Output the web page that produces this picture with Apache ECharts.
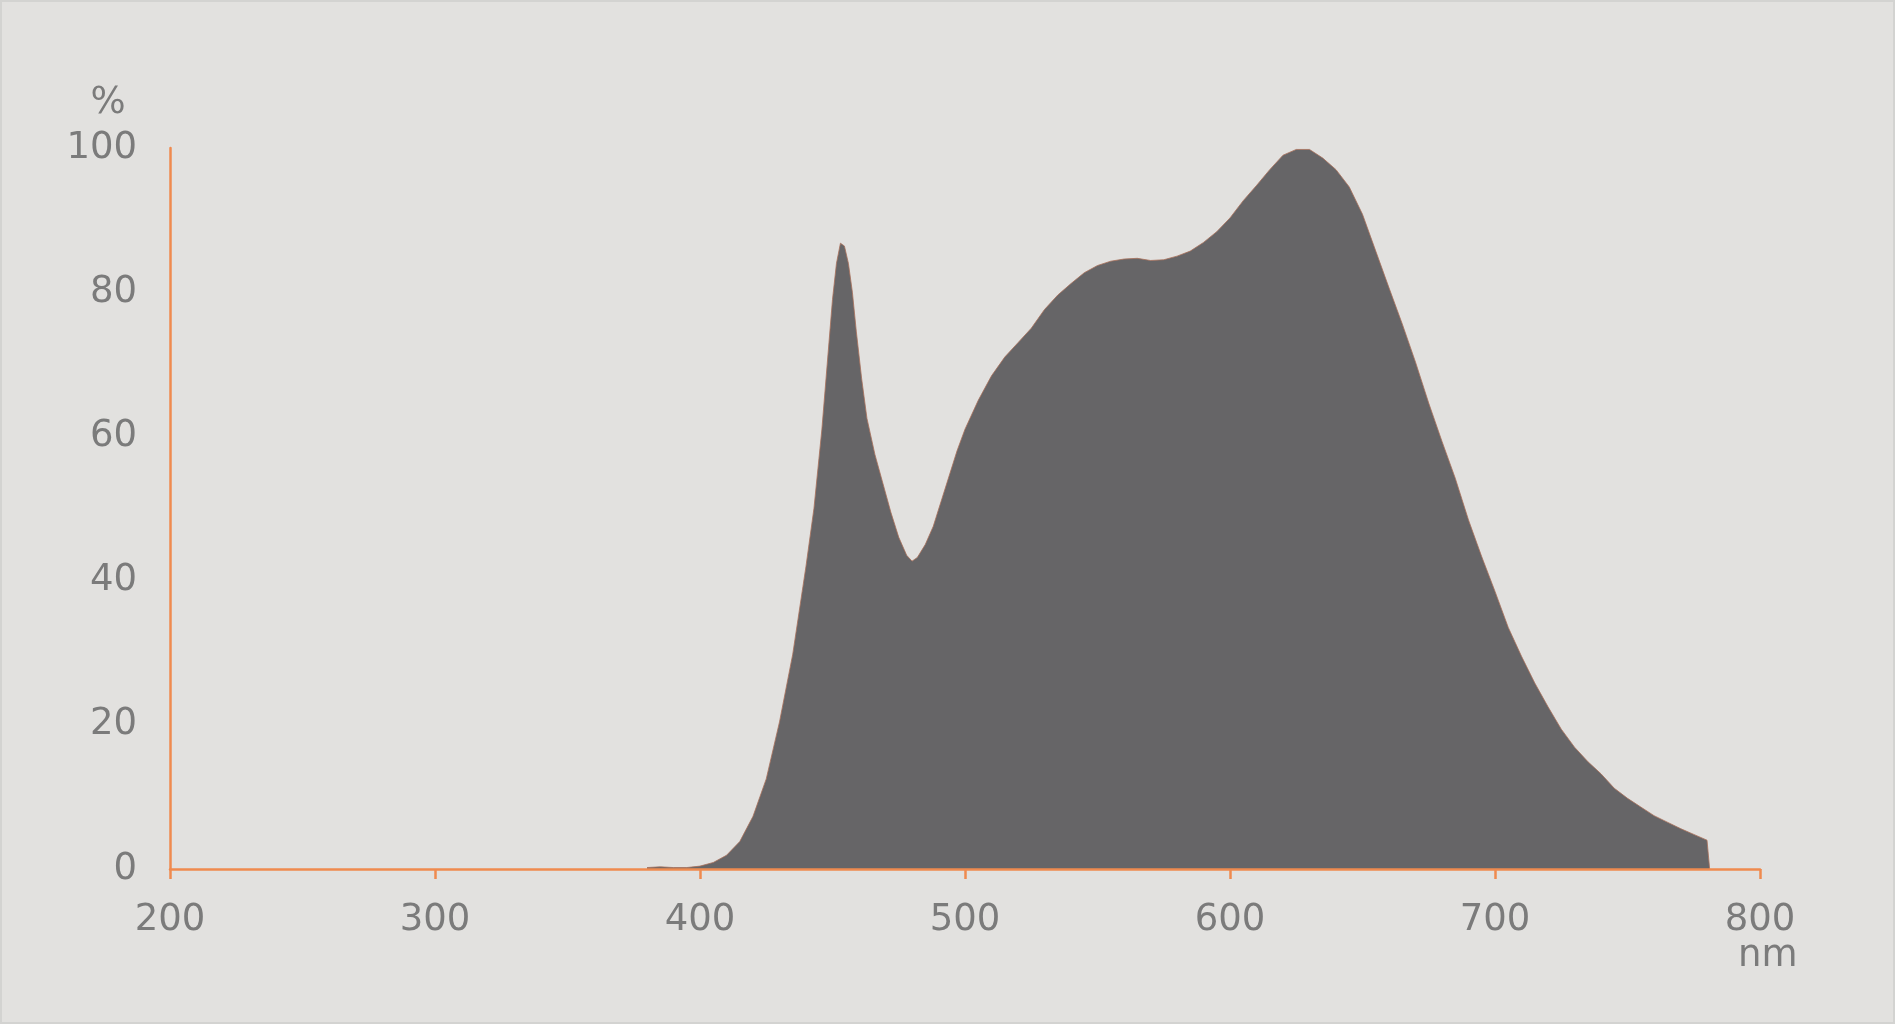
<!DOCTYPE html>
<html>
<head>
<meta charset="utf-8">
<script src="https://cdn.jsdelivr.net/npm/echarts@6/dist/echarts.min.js"></script>
<style>
html,body{margin:0;padding:0;background:#e2e1df;}
#chart{width:1895px;height:1024px;box-sizing:border-box;border:2px solid #d3d3d1;}
</style>
</head>
<body>
<div id="chart"></div>
<script>
const wavelengths = [380,385,390,395,400,405,410,415,420,425,430,435,440,443,446,448,450,451.5,453,454.5,456,457.5,459,461,463,466,469,472,475,478,480,482,485,488,491,494,497,500,505,510,515,520,525,530,535,540,545,550,555,560,565,570,575,580,585,590,595,600,605,610,615,620,625,630,635,640,645,650,655,660,665,670,675,680,685,690,695,700,705,710,715,720,725,730,735,740,745,750,755,760,765,770,775,780,780.6,781];
const intensity = [0.2,0.3,0.2,0.2,0.4,0.9,1.9,3.8,7.3,12.5,20.4,29.8,42,50,61,70,79,84,86.8,86.4,84,80,74.5,68,62.5,57.5,53.5,49.5,46,43.5,42.7,43.2,45,47.5,51,54.5,58,61,65,68.4,71,73,75,77.6,79.6,81.2,82.7,83.7,84.3,84.6,84.7,84.4,84.5,85,85.7,86.9,88.4,90.3,92.7,94.8,97,99,99.8,99.8,98.6,97,94.6,90.8,85.7,80.6,75.6,70.3,64.6,59.3,54.2,48.4,43.3,38.5,33.5,29.5,25.8,22.5,19.4,16.9,14.9,13.2,11.2,9.8,8.6,7.4,6.5,5.6,4.8,4.0,3.9,0];
const xTicks = {min:200, max:800, step:100};
const yTicks = {min:0, max:100, step:20};
const xName = 'nm';
const yName = '%';

const ORANGE = '#ef8a4f';
const TEXT = '#7b7b7b';
const FONT = 'DejaVu Sans';

const chart = echarts.init(document.getElementById('chart'));
chart.setOption({
  backgroundColor: '#e2e1df',
  animation: false,
  grid: {left: 168, right: 133, top: 146, bottom: 153, containLabel: false},
  xAxis: {
    type: 'value', min: xTicks.min, max: xTicks.max, interval: xTicks.step,
    z: 10,
    name: xName, nameLocation: 'end', nameGap: -22, nameMoveOverlap: false,
    nameTextStyle: {color: TEXT, fontFamily: FONT, fontSize: 37, align: 'left', verticalAlign: 'top', padding: [69,0,0,0]},
    axisLine: {show: true, lineStyle: {color: ORANGE, width: 2.5}},
    axisTick: {show: true, inside: false, length: 10, lineStyle: {color: ORANGE, width: 2.5}},
    axisLabel: {color: TEXT, fontFamily: FONT, fontSize: 37, margin: 33},
    splitLine: {show: false}
  },
  yAxis: {
    type: 'value', min: yTicks.min, max: yTicks.max, interval: yTicks.step,
    z: 10,
    name: yName, nameLocation: 'end', nameGap: 45, nameMoveOverlap: false,
    nameTextStyle: {color: TEXT, fontFamily: FONT, fontSize: 37, align: 'center', verticalAlign: 'middle', padding: [0,124,0,0]},
    axisLine: {show: true, lineStyle: {color: ORANGE, width: 2.5}},
    axisTick: {show: false},
    axisLabel: {color: TEXT, fontFamily: FONT, fontSize: 37, margin: 33},
    splitLine: {show: false}
  },
  series: [{
    type: 'line',
    data: wavelengths.map((w, i) => [w, intensity[i]]),
    showSymbol: false,
    smooth: false,
    lineStyle: {color: '#a8705a', width: 0.8},
    areaStyle: {color: '#666567', opacity: 1}
  }]
});
</script>
</body>
</html>
